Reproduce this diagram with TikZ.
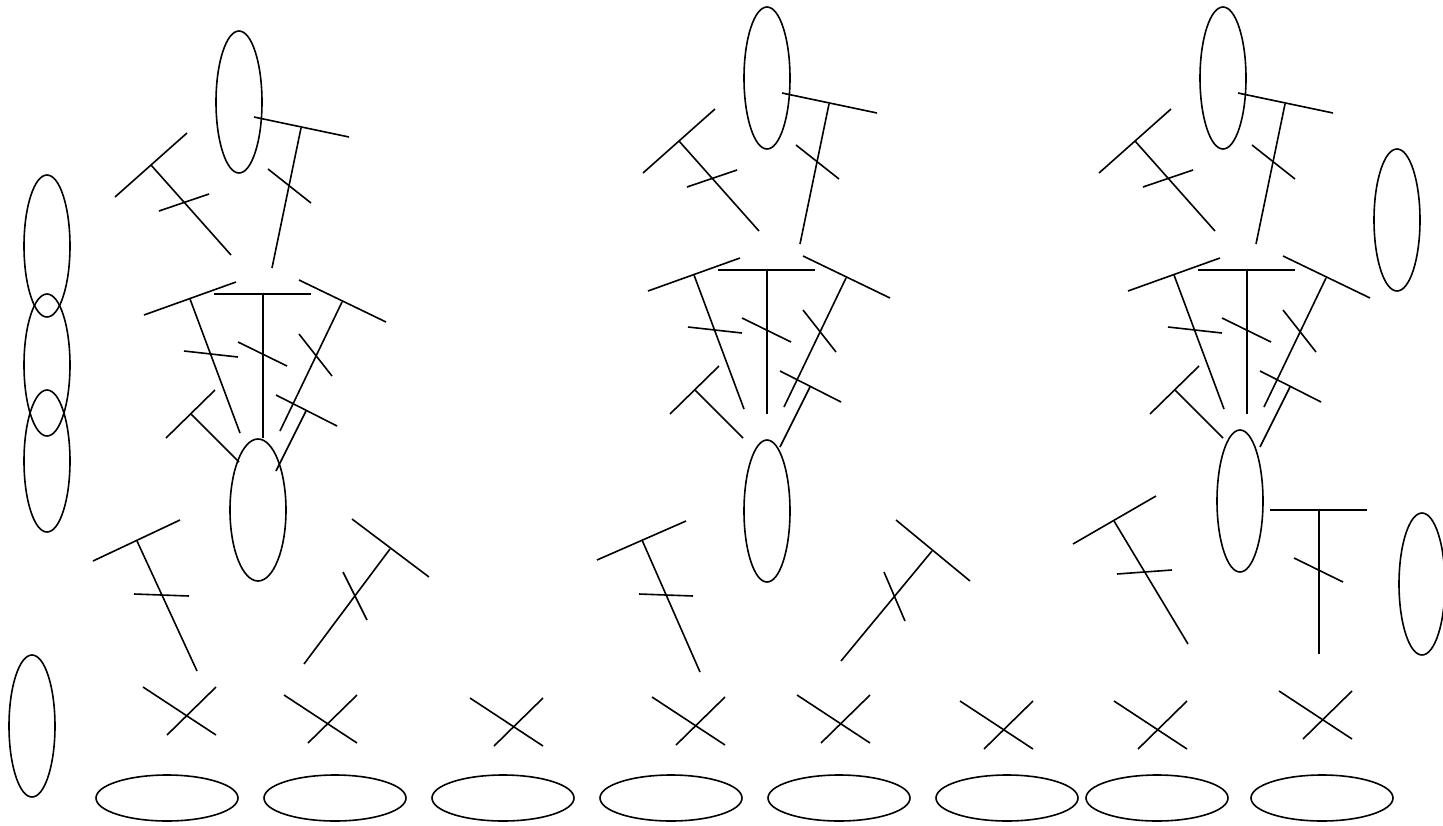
\documentclass[tikz,border=0pt]{standalone}
\usepackage{tikz}
\usetikzlibrary{calc}

\begin{document}
\begin{tikzpicture}[x=1pt,y=-1pt,line width=1.6pt]
	\useasboundingbox (0,0) rectangle (1443,825);
	\tikzset{blob/.style={x radius=23pt,y radius=71pt},
		disc/.style={x radius=71pt,y radius=23pt}}
	% heads of the three figures
	\foreach \dx/\dy in {0/0,528/-24,984/-24}{
		\begin{scope}[shift={(\dx,\dy)}]
			\draw (239,102) ellipse [blob];
			\draw (115,197) -- (187,133);
			\draw (151,165) -- (231,255);
			\draw (159,211) -- (209,194);
			\draw (254,117) -- (349,137);
			\draw (301,128) -- (272,268);
			\draw (268,169) -- (311,203);
		\end{scope}
	}
	% fans of the three figures
	\foreach \dx/\dy in {0/0,504/-24,984/-24}{
		\begin{scope}[shift={(\dx,\dy)}]
			\draw (144,315) -- (236,282);
			\draw (190,299) -- (240,433);
			\draw (184,351) -- (238,357);
			\draw (214,294) -- (311,294);
			\draw (263,294) -- (263,438);
			\draw (238,342) -- (287,366);
			\draw (299,280) -- (386,322);
			\draw (342,302) -- (280,431);
			\draw (299,334) -- (332,376);
			\draw (166,438) -- (215,390);
			\draw (191,414) -- (239,462);
			\draw (276,395) -- (337,426);
			\draw (306,411) -- (276,471);
		\end{scope}
	}
	% bodies
	\draw (258,510) ellipse [x radius=28pt,y radius=71pt];
	\draw (767,511) ellipse [blob];
	\draw (1240,501) ellipse [blob];
	% loose upright ellipses
	\foreach \cx/\cy in {47/246,47/365,47/461,32/726,1397/220,1422/584}
		\draw (\cx,\cy) ellipse [blob];
	% lower marks
	\draw (93,561) -- (180,520);
	\draw (137,541) -- (197,671);
	\draw (134,594) -- (189,596);
	\draw (352,519) -- (429,577);
	\draw (390,549) -- (304,664);
	\draw (343,572) -- (367,620);
	\draw (597,560) -- (686,521);
	\draw (642,540) -- (700,672);
	\draw (639,594) -- (693,596);
	\draw (896,520) -- (970,581);
	\draw (932,551) -- (841,661);
	\draw (884,572) -- (905,621);
	\draw (1073,544) -- (1156,496);
	\draw (1114,521) -- (1188,644);
	\draw (1117,574) -- (1172,570);
	\draw (1270,510) -- (1367,510);
	\draw (1319,510) -- (1319,654);
	\draw (1294,558) -- (1343,582);
	% crosses
	\foreach \cx/\cy in {143/687,284/695,470/698,652/697,797/695,960/701,1114/701,1279/691}{
		\draw (\cx,\cy) -- +(73,48);
		\draw ($(\cx,\cy)+(24,48)$) -- +(49,-48);
	}
	% discs along the bottom
	\foreach \cx in {167,335,503,671,839,1007,1157,1322}
		\draw (\cx,798) ellipse [disc];
\end{tikzpicture}
\end{document}
